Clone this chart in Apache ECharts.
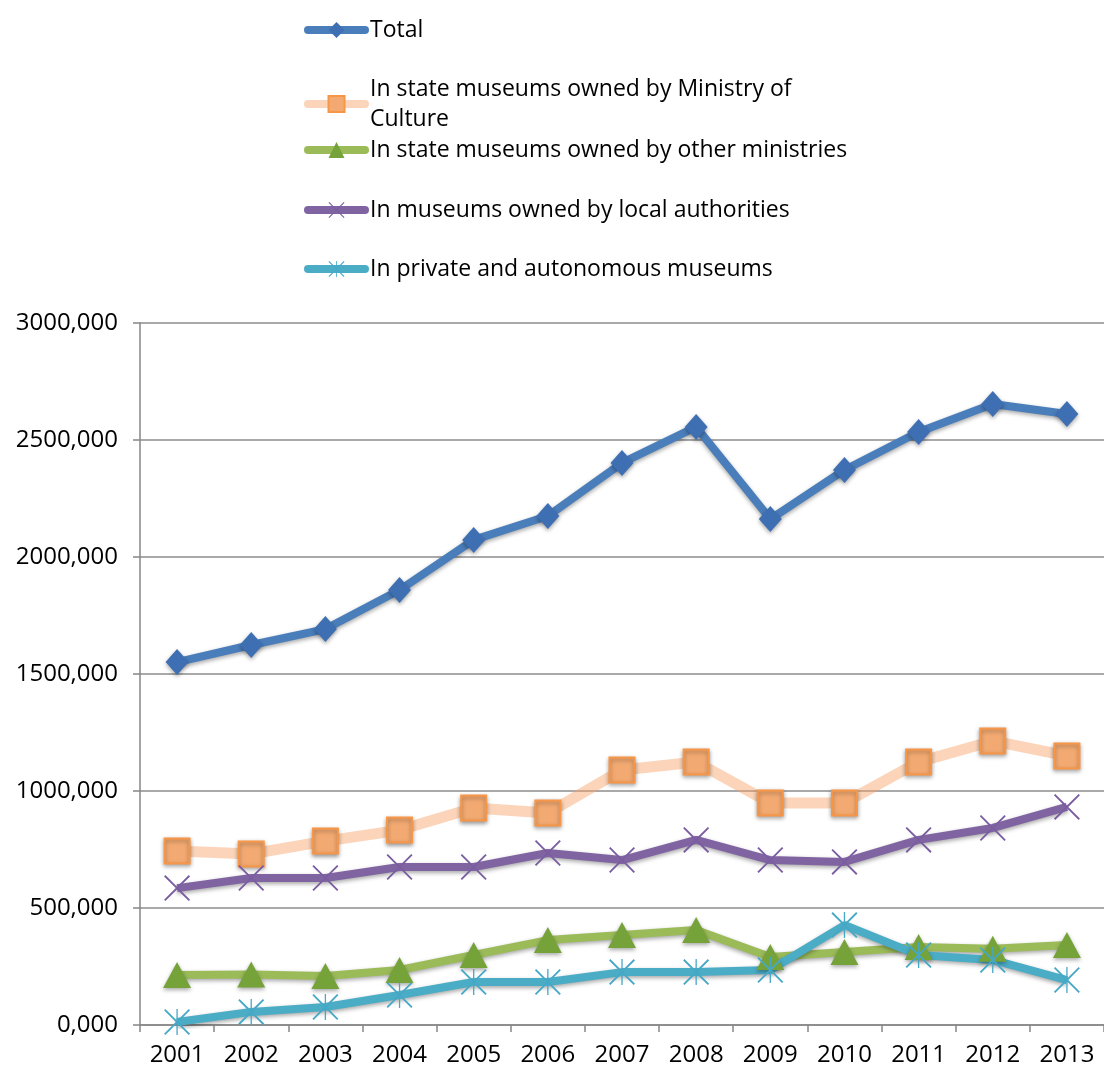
<!DOCTYPE html>
<html>
<head>
<meta charset="utf-8">
<script src="https://cdn.jsdelivr.net/npm/echarts@6/dist/echarts.min.js"></script>
<style>
  html, body { margin: 0; padding: 0; background: #fff; }
  #chart { width: 1104px; height: 1071px; }
</style>
</head>
<body>
<div id="chart"></div>
<script>
const years = ['2001', '2002', '2003', '2004', '2005', '2006', '2007', '2008', '2009', '2010', '2011', '2012', '2013']
const total = [1551, 1624, 1692, 1859, 2073, 2175, 2402, 2556, 2162, 2372, 2534, 2654, 2611]
const ministryCulture = [744, 731, 786, 833, 927, 906, 1090, 1124, 949, 949, 1124, 1214, 1150]
const otherMinistries = [214, 216, 209, 235, 299, 363, 385, 406, 291, 312, 333, 326, 342]
const localAuthorities = [585, 628, 628, 675, 675, 735, 705, 791, 705, 697, 791, 842, 932]
const privateMuseums = [13, 56, 77, 128, 184, 184, 226, 226, 235, 427, 299, 278, 192]
const seriesNames = [
  'Total',
  'In state museums owned by Ministry of Culture',
  'In state museums owned by other ministries',
  'In museums owned by local authorities',
  'In private and autonomous museums'
]

// custom marker shapes (x and asterisk)
const crossPath = 'path://M0,1.2 L1.2,0 L12,10.8 L22.8,0 L24,1.2 L13.2,12 L24,22.8 L22.8,24 L12,13.2 L1.2,24 L0,22.8 L10.8,12 Z'
const starPath = crossPath.replace(' Z', ' Z M11.4,0 L12.6,0 L12.6,24 L11.4,24 Z')

const font = '"Open Sans", sans-serif'
const shadow = { shadowBlur: 4, shadowColor: 'rgba(0,0,0,0.35)', shadowOffsetY: 2 }

let myChart = echarts.init(document.getElementById('chart'))

const legendTops = [15, 59, 135, 195, 254]
const legends = seriesNames.map((name, i) => ({
  data: [name],
  orient: 'vertical',
  left: 304,
  top: legendTops[i],
  padding: 0,
  itemWidth: 57,
  itemHeight: 20,
  itemGap: 5,
  lineStyle: { width: 8, cap: 'round', shadowBlur: 0, shadowOffsetY: 0 },
  formatter: i === 1 ? 'In state museums owned by Ministry of\nCulture' : '{name}',
  textStyle: {
    fontFamily: font,
    fontSize: 23,
    color: '#000',
    lineHeight: 30,
    padding: i === 1 ? [30, 0, 0, 0] : 0
  }
}))

myChart.setOption({
  backgroundColor: '#fff',
  animation: false,
  legend: legends,
  grid: {
    left: 140,
    right: 0,
    top: 323,
    bottom: 46
  },
  xAxis: {
    type: 'category',
    data: years,
    boundaryGap: true,
    axisLine: { lineStyle: { color: '#868686', width: 1.5 } },
    axisTick: { show: true, length: 7, lineStyle: { color: '#868686', width: 1.5 } },
    axisLabel: { color: '#000', fontFamily: font, fontSize: 24, margin: 18 }
  },
  yAxis: {
    type: 'value',
    min: 0,
    max: 3000,
    interval: 500,
    axisLine: { show: true, lineStyle: { color: '#868686', width: 1.5 } },
    axisTick: { show: true, length: 7, lineStyle: { color: '#868686', width: 1.5 } },
    axisLabel: {
      color: '#000',
      fontFamily: font,
      fontSize: 24,
      margin: 22,
      formatter: v => v + ',000'
    },
    splitLine: { show: true, lineStyle: { color: '#8c8c8c', width: 1.5 } }
  },
  series: [
    {
      name: seriesNames[0],
      type: 'line',
      data: total,
      symbol: 'diamond',
      symbolSize: [23, 26],
      lineStyle: Object.assign({ color: '#4A7EBB', width: 8 }, shadow),
      itemStyle: Object.assign({ color: '#3E6FB3' }, shadow)
    },
    {
      name: seriesNames[1],
      type: 'line',
      data: ministryCulture,
      symbol: 'rect',
      symbolSize: 25,
      lineStyle: { color: 'rgba(247,160,100,0.45)', width: 11 },
      itemStyle: Object.assign({ color: '#F3AA72', borderColor: '#F79646', borderWidth: 2 }, shadow)
    },
    {
      name: seriesNames[2],
      type: 'line',
      data: otherMinistries,
      symbol: 'triangle',
      symbolSize: [28, 26],
      lineStyle: Object.assign({ color: '#9BBB59', width: 8 }, shadow),
      itemStyle: Object.assign({ color: '#76A23A' }, shadow)
    },
    {
      name: seriesNames[3],
      type: 'line',
      data: localAuthorities,
      symbol: crossPath,
      symbolSize: 26,
      lineStyle: Object.assign({ color: '#8064A2', width: 8 }, shadow),
      itemStyle: { color: '#7A5CA0' }
    },
    {
      name: seriesNames[4],
      type: 'line',
      data: privateMuseums,
      symbol: starPath,
      symbolSize: 26,
      lineStyle: Object.assign({ color: '#4BACC6', width: 8 }, shadow),
      itemStyle: { color: '#45A8C6' }
    }
  ]
})
</script>
</body>
</html>
